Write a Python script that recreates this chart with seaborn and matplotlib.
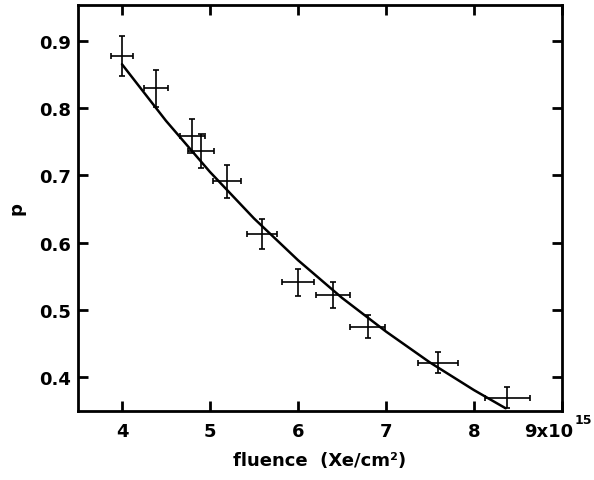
import numpy as np
import matplotlib
matplotlib.use("Agg")
import matplotlib.pyplot as plt
import seaborn as sns

# Data (fluence in units of 1e15 Xe/cm^2)
fluence = [4.00, 4.39, 4.80, 4.90, 5.19, 5.59, 6.00, 6.40, 6.79, 7.59, 8.38]
p_value = [0.877, 0.829, 0.758, 0.736, 0.691, 0.613, 0.541, 0.522, 0.475, 0.422, 0.370]
fluence_err = [0.125, 0.135, 0.14, 0.15, 0.16, 0.17, 0.18, 0.19, 0.20, 0.23, 0.255]
p_err = [0.030, 0.028, 0.025, 0.025, 0.025, 0.022, 0.020, 0.019, 0.017, 0.015, 0.015]

# Fitted curve, read at a few points
fit_x = [4.0, 4.5, 5.0, 5.5, 6.0, 6.5, 7.0, 7.5, 8.0, 8.36]
fit_y = [0.865, 0.781, 0.705, 0.636, 0.574, 0.518, 0.468, 0.422, 0.381, 0.354]

x_ticks = [4, 5, 6, 7, 8, 9]
x_tick_labels = ["4", "5", "6", "7", "8", ""]
y_ticks = [0.4, 0.5, 0.6, 0.7, 0.8, 0.9]

sns.set_style("ticks")
plt.rcParams['font.family'] = ['DejaVu Sans']
plt.rcParams['font.weight'] = 'bold'
plt.rcParams['text.color'] = 'black'
plt.rcParams['axes.labelcolor'] = 'black'
plt.rcParams['xtick.color'] = 'black'
plt.rcParams['ytick.color'] = 'black'

fig = plt.figure(figsize=(5.94, 4.81), dpi=100)
ax = fig.add_axes([0.1313, 0.1435, 0.8148, 0.844])

sns.lineplot(x=fit_x, y=fit_y, ax=ax, color='black', linewidth=1.8)
ax.errorbar(fluence, p_value, xerr=fluence_err, yerr=p_err, fmt='none',
            ecolor='black', elinewidth=1.2, capsize=2, capthick=1.2)

ax.set_xlim(3.5, 9.0)
ax.set_ylim(0.35, 0.953)
ax.set_xticks(x_ticks)
ax.set_xticklabels(x_tick_labels)
ax.set_yticks(y_ticks)
ax.set_yticklabels([f"{v:.1f}" for v in y_ticks])

ax.tick_params(direction='in', length=7, width=2, top=True, right=True,
               labelsize=13, colors='black')
ax.tick_params(axis='x', pad=8)
ax.tick_params(axis='y', pad=5)
for s in ax.spines.values():
    s.set_linewidth(2)
    s.set_color('black')

# last tick label with its exponent
trans = ax.get_xaxis_transform()
ax.text(9.13, -0.027, "9x10", transform=trans, ha='right', va='top',
        fontsize=13, fontweight='bold', color='black', clip_on=False)
ax.text(9.14, -0.006, "15", transform=trans, ha='left', va='top',
        fontsize=9, fontweight='bold', color='black', clip_on=False)

ax.set_xlabel("fluence  (Xe/cm²)", fontsize=13, fontweight='bold', labelpad=8)
ax.set_ylabel("p", fontsize=13, fontweight='bold', labelpad=10)

fig.savefig("out.png", dpi=100)
